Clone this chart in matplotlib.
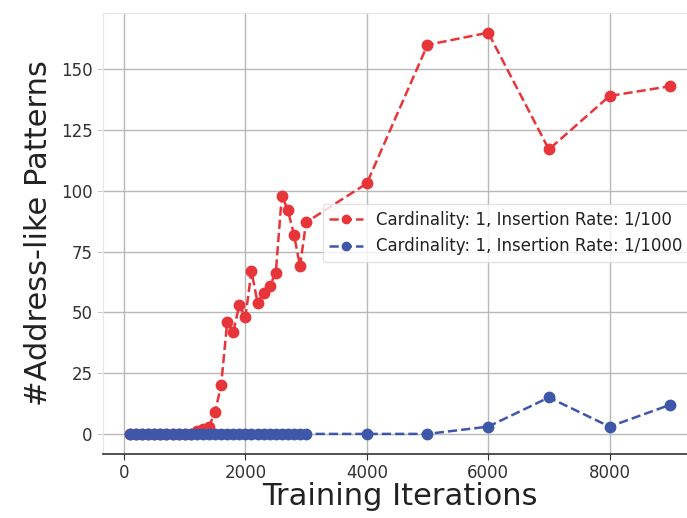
import numpy as np
import matplotlib.pyplot as plt

# 训练步数: 100~3000 每100一个点, 之后每1000一个点
iters = list(range(100, 3100, 100)) + [4000, 5000, 6000, 7000, 8000, 9000]

# 插入率 1/100
rate_100 = [0, 0, 0, 0, 0, 0, 0, 0, 0, 0, 0,
            1, 2, 3, 9, 20, 46, 42, 53, 48,
            67, 54, 58, 61, 66, 98, 92, 82, 69, 87,
            103, 160, 165, 117, 139, 143]

# 插入率 1/1000
rate_1000 = [0] * 30 + [0, 0, 3, 15, 3, 12]

label_100 = 'Cardinality: 1, Insertion Rate: 1/100'
label_1000 = 'Cardinality: 1, Insertion Rate: 1/1000'

red = '#e8353a'
blue = '#3f57a8'

fig = plt.figure(figsize=(6.87, 5.18), dpi=100)
ax = fig.add_axes([0.150, 0.1236, 0.865, 0.852])

ax.plot(iters, rate_100, linestyle='--', marker='o', color=red,
        linewidth=1.8, markersize=7.5, label=label_100)
ax.plot(iters, rate_1000, linestyle='--', marker='o', color=blue,
        linewidth=1.8, markersize=7.5, label=label_1000)

ax.set_xlim(-345, 9445)
ax.set_ylim(-8.25, 173.25)
ax.set_xticks([0, 2000, 4000, 6000, 8000])
ax.set_yticks([0, 25, 50, 75, 100, 125, 150])

ax.grid(True, color='#b8b8b8', linewidth=1.0)
ax.set_axisbelow(True)
for side in ['left', 'top', 'right']:
    ax.spines[side].set_color('#e6e6e6')
ax.spines['bottom'].set_color('#333333')
ax.spines['bottom'].set_linewidth(1.2)

ax.tick_params(axis='x', length=4, color='#333333', labelsize=12, labelcolor='#333333')
ax.tick_params(axis='y', length=4, color='#cccccc', labelsize=12, labelcolor='#333333')

ax.set_xlabel('Training Iterations', fontsize=22, color='#222222', labelpad=0)
ax.set_ylabel('#Address-like Patterns', fontsize=22, color='#222222', labelpad=6)

leg = ax.legend(loc='center right', fontsize=12, frameon=True,
                edgecolor='#dddddd', framealpha=0.8, handlelength=2.0,
                markerscale=0.8)
for t in leg.get_texts():
    t.set_color('#222222')

fig.savefig('out.png', dpi=100)
